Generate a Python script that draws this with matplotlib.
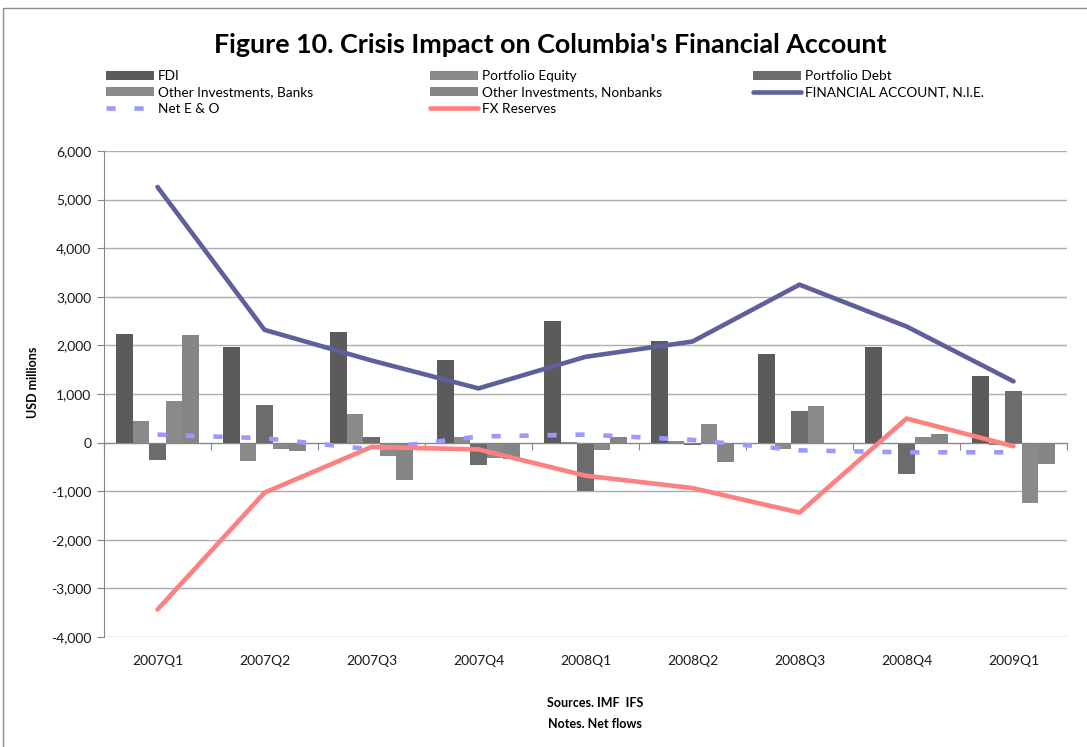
import numpy as np
import matplotlib
matplotlib.use('Agg')
import matplotlib.pyplot as plt
from matplotlib.patches import Rectangle
from matplotlib.ticker import FuncFormatter

plt.rcParams['font.family'] = ['Lato', 'DejaVu Sans']

# Данные (USD millions)
quarters = ['2007Q1', '2007Q2', '2007Q3', '2007Q4', '2008Q1',
            '2008Q2', '2008Q3', '2008Q4', '2009Q1']
fdi = [2230, 1965, 2275, 1700, 2500, 2090, 1830, 1965, 1370]
equity = [445, -370, 590, 110, 10, 25, -135, -10, -45]
debt = [-350, 775, 115, -460, -995, -50, 650, -655, 1060]
banks = [855, -125, -280, -320, -150, 380, 755, 110, -1235]
nonbanks = [2210, -165, -760, -330, 110, -395, -25, 170, -450]
fin_account = [5260, 2320, 1690, 1115, 1765, 2080, 3250, 2390, 1260]
net_eo = [165, 90, -140, 125, 165, 55, -160, -200, -200]
fx_reserves = [-3435, -1030, -90, -140, -680, -935, -1440, 495, -75]

bar_series = [
    ('FDI', fdi, '#5B5B5B'),
    ('Portfolio Equity', equity, '#8A8A8A'),
    ('Portfolio Debt', debt, '#6C6C6C'),
    ('Other Investments, Banks', banks, '#8A8A8A'),
    ('Other Investments, Nonbanks', nonbanks, '#858585'),
]

W, H = 1087, 747
fig = plt.figure(figsize=(W / 100, H / 100), dpi=100)
ax = fig.add_axes([104 / W, 1 - 637 / H, 963 / W, 486 / H])

x = np.arange(len(quarters))
w = 1 / 6.5
handles = {}
for i, (name, vals, col) in enumerate(bar_series):
    handles[name] = ax.bar(x + (i - 2) * w, vals, width=w, color=col, zorder=2, label=name)

handles['FINANCIAL ACCOUNT, N.I.E.'], = ax.plot(
    x, fin_account, color='#5F5F9C', lw=3.3, zorder=3,
    solid_capstyle='round', solid_joinstyle='round', label='FINANCIAL ACCOUNT, N.I.E.')
handles['Net E & O'], = ax.plot(
    x, net_eo, color='#9999FF', lw=3.3, zorder=3, dashes=(2.0, 4.1),
    dash_capstyle='butt', label='Net E & O')
handles['FX Reserves'], = ax.plot(
    x, fx_reserves, color='#FF8080', lw=3.3, zorder=3,
    solid_capstyle='round', solid_joinstyle='round', label='FX Reserves')

# Оси
ax.set_xlim(-0.5, len(quarters) - 0.5)
ax.set_ylim(-4000, 6000)
ax.set_yticks(np.arange(-4000, 6001, 1000))
ax.yaxis.set_major_formatter(FuncFormatter(lambda v, p: f'{v:,.0f}'))
ax.yaxis.grid(True, color='#ADADAD', lw=1, zorder=0)
ax.set_axisbelow(True)
ax.tick_params(axis='y', direction='out', length=5, color='#868686',
               labelsize=10, labelcolor='#1a1a1a', pad=4)

for s in ['top', 'right']:
    ax.spines[s].set_visible(False)
ax.spines['left'].set_color('#868686')
ax.spines['bottom'].set_position(('data', 0))
ax.spines['bottom'].set_color('#868686')
ax.set_xticks(np.arange(-0.5, len(quarters), 1))
ax.tick_params(axis='x', direction='out', length=5, color='#868686', labelbottom=False)

sec = ax.secondary_xaxis('bottom')
sec.set_xticks(x, labels=quarters)
sec.tick_params(length=0, pad=13, labelsize=10, labelcolor='#1a1a1a')
sec.spines['bottom'].set_visible(False)

# Легенда: три колонки
cols = [
    (106, ['FDI', 'Other Investments, Banks', 'Net E & O']),
    (430, ['Portfolio Equity', 'Other Investments, Nonbanks', 'FX Reserves']),
    (753, ['Portfolio Debt', 'FINANCIAL ACCOUNT, N.I.E.']),
]
for xpos, names in cols:
    leg = fig.legend([handles[n] for n in names], names, loc='upper left',
                     bbox_to_anchor=(xpos / W, 1 - 70 / H), frameon=False,
                     fontsize=9.8, borderpad=0, borderaxespad=0, handlelength=3.55,
                     handleheight=0.65, handletextpad=0.28, labelspacing=0.32)

fig.text(550 / W, 1 - 45 / H, "Figure 10. Crisis Impact on Columbia's Financial Account",
         ha='center', va='center', fontsize=19.4, fontweight='bold')
fig.text(33 / W, 1 - 382 / H, 'USD millions', rotation=90, ha='center', va='center',
         fontsize=9, fontweight='bold')
fig.text(595 / W, 1 - 703 / H, 'Sources. IMF  IFS', ha='center', va='center',
         fontsize=9, fontweight='bold')
fig.text(595 / W, 1 - 724 / H, 'Notes. Net flows', ha='center', va='center',
         fontsize=9, fontweight='bold')

fig.add_artist(Rectangle((3 / W, -0.1), 1.2, 1.1 - 8 / H, transform=fig.transFigure,
                         fill=False, edgecolor='#8C8C8C', lw=1, clip_on=False))

fig.savefig('out.png', dpi=100)
